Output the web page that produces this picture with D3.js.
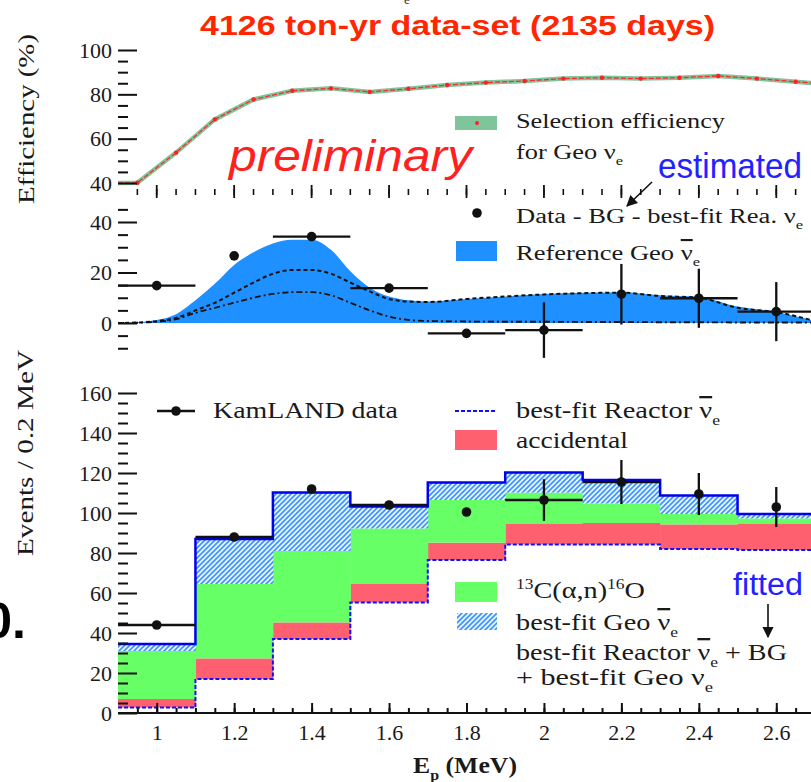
<!DOCTYPE html>
<html>
<head>
<meta charset="utf-8">
<script src="https://cdn.jsdelivr.net/npm/d3@7"></script>
<style>
body { margin: 0; background: #fff; }
text { font-family: "Liberation Serif", "Times New Roman", serif; }
.sans { font-family: "Liberation Sans", Arial, sans-serif; }
</style>
</head>
<body>
<script>
// energy bins (prompt energy, MeV), 0.2 MeV wide
const binCenters = [1.0, 1.2, 1.4, 1.6, 1.8, 2.0, 2.2, 2.4, 2.6];

// top panel: selection efficiency (%)
const effE   = [0.9, 0.95, 1.05, 1.15, 1.25, 1.35, 1.45, 1.55, 1.65, 1.75, 1.85, 1.95, 2.05, 2.15, 2.25, 2.35, 2.45, 2.55, 2.65, 2.7];
const effVal = [40, 40.1, 53.7, 68.7, 77.7, 81.6, 82.7, 81.1, 82.5, 84.2, 85.3, 86, 87.1, 87.5, 87.1, 87.5, 88.3, 87.1, 85.7, 85];

// middle panel: reference geo spectrum (total, U, Th)
const refE     = [0.9, 0.95, 1.0, 1.05, 1.1, 1.15, 1.2, 1.25, 1.3, 1.35, 1.4, 1.45, 1.5, 1.55, 1.6, 1.65, 1.7, 1.8, 1.9, 2.0, 2.1, 2.2, 2.3, 2.4, 2.5, 2.6, 2.7];
const refTotal = [0, 0.3, 1.2, 3.5, 9, 15.5, 23, 28, 31.5, 33, 33, 29, 20.5, 14, 10.5, 9, 8.5, 9.5, 10.5, 11.5, 12, 12.2, 11, 10.3, 6.5, 4.4, 0.8];
const refU     = [0, 0.2, 0.7, 2, 5, 8, 12, 16, 19.5, 21, 21, 19.5, 16, 12.5, 9.5, 8.5, 8.3, 9.5, 10.5, 11.3, 11.8, 12, 10.7, 10, 6, 4.3, 0.8];
const refTh    = [0, 0.1, 0.5, 1.5, 4, 6, 8, 10, 11.5, 12.2, 12.2, 11, 8, 5, 2.5, 1.2, 0.8, 0.6, 0.5, 0.5, 0.4, 0.4, 0.3, 0.3, 0.2, 0.2, 0.2];

// middle panel: data - BG - best-fit reactor
const subVal  = [14.8, 26.6, 34.2, 13.8, -4.1, -2.8, 11.4, 9.8, 4.5];
const subErr  = [0, 0, 0, 0, 0, 11, 12, 11.7, 11.7];
const subXerr = [0.1, 0, 0.1, 0.1, 0.1, 0.1, 0, 0.1, 0.1];

// bottom panel: stacked components (events / 0.2 MeV)
const reactor    = [2.7, 17, 37, 55.3, 76.5, 84.3, 84.3, 82, 81.5];
const accidental = [4.3, 10.3, 8.3, 9.2, 8.7, 10.5, 10.7, 12.3, 13.3];
const c13        = [24, 37.2, 35.7, 27.8, 21.3, 15.4, 9.8, 5.2, 2.5];
const geoFit     = [3.5, 22.5, 29.2, 10.9, 8.7, 10.1, 11.7, 9.2, 2.2];
const dataVal    = [44, 88, 112, 104, 100.5, 106.5, 115.5, 109.5, 103];
const dataErr    = [0, 0, 0, 0, 0, 10.4, 11, 10.5, 10];
const dataXerr   = [0.1, 0.1, 0, 0.1, 0, 0.1, 0.1, 0, 0];

const xTicks = [1, 1.2, 1.4, 1.6, 1.8, 2, 2.2, 2.4, 2.6];

const svgWidth = 811, svgHeight = 782;
const svg = d3.select("body").append("svg")
    .attr("width", svgWidth)
    .attr("height", svgHeight);

const defs = svg.append("defs");
const hatch = defs.append("pattern")
    .attr("id", "hatch")
    .attr("patternUnits", "userSpaceOnUse")
    .attr("width", 5).attr("height", 5);
hatch.append("rect").attr("width", 5).attr("height", 5).attr("fill", "#eaf4ff");
hatch.append("path")
    .attr("d", "M-1,1 l2,-2 M0,5 l5,-5 M4,6 l2,-2")
    .attr("stroke", "#3d95ff").attr("stroke-width", 1.7);
defs.append("marker")
    .attr("id", "arrow")
    .attr("viewBox", "0 0 10 10")
    .attr("refX", 9).attr("refY", 5)
    .attr("markerWidth", 7).attr("markerHeight", 7)
    .attr("orient", "auto")
  .append("path")
    .attr("d", "M0,0 L10,5 L0,10 z")
    .attr("fill", "#111");

// scales
const xScale = d3.scaleLinear().domain([0.9, 2.7]).range([118, 815]);
const yEff = d3.scaleLinear().domain([40, 100]).range([183, 50]);
const ySub = d3.scaleLinear().domain([0, 40]).range([323, 222]);
const yEvt = d3.scaleLinear().domain([0, 160]).range([713, 393]);

const plot = svg.append("g");

// helper for text with sub/superscripts and overlines
function richText(x, y, parts, size, len, fill, cls) {
  const t = plot.append("text")
      .attr("x", x).attr("y", y)
      .attr("font-size", size)
      .attr("fill", fill || "#1a1a1a");
  if (cls) t.attr("class", cls);
  if (len) t.attr("textLength", len).attr("lengthAdjust", "spacingAndGlyphs");
  let shift = 0;
  parts.forEach(p => {
    const s = t.append("tspan").text(p.t);
    let want = 0;
    if (p.sub) want = size * 0.3;
    if (p.sup) want = -size * 0.38;
    if (want !== shift) { s.attr("dy", want - shift); shift = want; }
    if (p.sub || p.sup) s.attr("font-size", size * 0.62);
    if (p.bar) s.style("text-decoration", "overline");
  });
  return t;
}

// ---------- top panel: efficiency ----------
const effPts = effE.map((e, i) => [e, effVal[i]]);
const effLine = d3.line()
    .x(d => xScale(d[0]))
    .y(d => yEff(d[1]));

plot.append("path")
    .datum(effPts)
    .attr("d", effLine)
    .attr("fill", "none")
    .attr("stroke", "#80c49c")
    .attr("stroke-width", 4.5);
plot.append("path")
    .datum(effPts)
    .attr("d", effLine)
    .attr("fill", "none")
    .attr("stroke", "#ff2a2a")
    .attr("stroke-width", 1.3)
    .attr("stroke-dasharray", "5,2");
plot.selectAll(".effmark")
    .data(effPts.slice(1, -1))
    .enter()
    .append("circle")
    .attr("cx", d => xScale(d[0]))
    .attr("cy", d => yEff(d[1]))
    .attr("r", 2.2)
    .attr("fill", "#ff2020");

plot.append("g")
    .attr("transform", "translate(118,0)")
    .call(d3.axisLeft(yEff).tickValues([40, 60, 80, 100]).tickSize(-19).tickPadding(6))
    .call(g => g.select(".domain").remove());
plot.append("g")
    .attr("transform", "translate(118,0)")
    .call(d3.axisLeft(yEff).tickValues(d3.range(45, 100, 5).filter(v => v % 20)).tickSize(-10).tickFormat(""))
    .call(g => g.select(".domain").remove());

// ticks between top and middle panel
const minorE = d3.range(0.95, 2.71, 0.05);
plot.selectAll(".tmin")
    .data(minorE)
    .enter()
    .append("line")
    .attr("x1", d => xScale(d)).attr("x2", d => xScale(d))
    .attr("y1", 189).attr("y2", 195)
    .attr("stroke", "#111").attr("stroke-width", 1.6);
plot.selectAll(".tmaj")
    .data(xTicks)
    .enter()
    .append("line")
    .attr("x1", d => xScale(d)).attr("x2", d => xScale(d))
    .attr("y1", 185).attr("y2", 198)
    .attr("stroke", "#111").attr("stroke-width", 1.8);

// ---------- middle panel: geo spectrum ----------
const refPts = refE.map((e, i) => ({e: e, tot: refTotal[i], u: refU[i], th: refTh[i]}));
plot.append("path")
    .datum(refPts)
    .attr("d", d3.area()
        .curve(d3.curveMonotoneX)
        .x(d => xScale(d.e))
        .y0(ySub(0))
        .y1(d => ySub(d.tot)))
    .attr("fill", "#1e90ff");
plot.append("path")
    .datum(refPts)
    .attr("d", d3.line().curve(d3.curveMonotoneX).x(d => xScale(d.e)).y(d => ySub(d.u)))
    .attr("fill", "none")
    .attr("stroke", "#111")
    .attr("stroke-width", 2)
    .attr("stroke-dasharray", "4,3");
plot.append("path")
    .datum(refPts)
    .attr("d", d3.line().curve(d3.curveMonotoneX).x(d => xScale(d.e)).y(d => ySub(d.th)))
    .attr("fill", "none")
    .attr("stroke", "#111")
    .attr("stroke-width", 1.8)
    .attr("stroke-dasharray", "6,3,2,3");

plot.append("g")
    .attr("transform", "translate(118,0)")
    .call(d3.axisLeft(ySub).tickValues([0, 20, 40]).tickSize(-19).tickPadding(6))
    .call(g => g.select(".domain").remove());
plot.append("g")
    .attr("transform", "translate(118,0)")
    .call(d3.axisLeft(ySub).tickValues([-10, -5, 5, 10, 15, 25, 30, 35, 45]).tickSize(-10).tickFormat(""))
    .call(g => g.select(".domain").remove());

const subPts = binCenters.map((e, i) => ({e: e, v: subVal[i], err: subErr[i], xe: subXerr[i]}));
const subG = plot.append("g");
subG.selectAll(".xbar")
    .data(subPts.filter(d => d.xe > 0))
    .enter()
    .append("line")
    .attr("x1", d => xScale(d.e - d.xe)).attr("x2", d => xScale(d.e + d.xe))
    .attr("y1", d => ySub(d.v)).attr("y2", d => ySub(d.v))
    .attr("stroke", "#111").attr("stroke-width", 2.3);
subG.selectAll(".ybar")
    .data(subPts.filter(d => d.err > 0))
    .enter()
    .append("line")
    .attr("x1", d => xScale(d.e)).attr("x2", d => xScale(d.e))
    .attr("y1", d => ySub(d.v - d.err)).attr("y2", d => ySub(d.v + d.err))
    .attr("stroke", "#111").attr("stroke-width", 2.3);
subG.selectAll("circle")
    .data(subPts)
    .enter()
    .append("circle")
    .attr("cx", d => xScale(d.e))
    .attr("cy", d => ySub(d.v))
    .attr("r", 4.8)
    .attr("fill", "#111");

// ---------- bottom panel: stacked spectrum ----------
const binRows = binCenters.map((e, i) => ({
  e: e, reactor: reactor[i], accidental: accidental[i], c13: c13[i], geo: geoFit[i]
}));
const stack = d3.stack().keys(["reactor", "accidental", "c13", "geo"]);
const layers = stack(binRows);
const fills = {accidental: "#ff6070", c13: "#66ff66", geo: "url(#hatch)"};

layers.filter(l => l.key !== "reactor").forEach(layer => {
  plot.append("g").selectAll("rect")
      .data(layer)
      .enter()
      .append("rect")
      .attr("x", d => xScale(d.data.e - 0.1))
      .attr("width", d => xScale(d.data.e + 0.1) - xScale(d.data.e - 0.1) + 0.5)
      .attr("y", d => yEvt(d[1]))
      .attr("height", d => yEvt(d[0]) - yEvt(d[1]))
      .attr("fill", fills[layer.key]);
});

function stepPoints(vals) {
  const pts = [];
  vals.forEach((v, i) => {
    pts.push([binCenters[i] - 0.1, v]);
    pts.push([binCenters[i] + 0.1, v]);
  });
  return pts;
}
const stepLine = d3.line().x(d => xScale(d[0])).y(d => yEvt(d[1]));

plot.append("path")
    .datum(stepPoints(reactor))
    .attr("d", stepLine)
    .attr("fill", "none")
    .attr("stroke", "#1010ff")
    .attr("stroke-width", 2)
    .attr("stroke-dasharray", "4,2");

const totals = layers[layers.length - 1].map(d => d[1]);
plot.append("path")
    .datum(stepPoints(totals))
    .attr("d", stepLine)
    .attr("fill", "none")
    .attr("stroke", "#0000ee")
    .attr("stroke-width", 2.5);

const dataPts = binCenters.map((e, i) => ({e: e, v: dataVal[i], err: dataErr[i], xe: dataXerr[i]}));
const dataG = plot.append("g");
dataG.selectAll(".xbar")
    .data(dataPts.filter(d => d.xe > 0))
    .enter()
    .append("line")
    .attr("x1", d => xScale(d.e - d.xe)).attr("x2", d => xScale(d.e + d.xe))
    .attr("y1", d => yEvt(d.v)).attr("y2", d => yEvt(d.v))
    .attr("stroke", "#111").attr("stroke-width", 2.3);
dataG.selectAll(".ybar")
    .data(dataPts.filter(d => d.err > 0))
    .enter()
    .append("line")
    .attr("x1", d => xScale(d.e)).attr("x2", d => xScale(d.e))
    .attr("y1", d => yEvt(d.v - d.err)).attr("y2", d => yEvt(d.v + d.err))
    .attr("stroke", "#111").attr("stroke-width", 2.3);
dataG.selectAll("circle")
    .data(dataPts)
    .enter()
    .append("circle")
    .attr("cx", d => xScale(d.e))
    .attr("cy", d => yEvt(d.v))
    .attr("r", 4.8)
    .attr("fill", "#111");

plot.append("g")
    .attr("transform", "translate(118,0)")
    .call(d3.axisLeft(yEvt).tickValues(d3.range(0, 161, 20)).tickSize(-19).tickPadding(6))
    .call(g => g.select(".domain").remove());
plot.append("g")
    .attr("transform", "translate(118,0)")
    .call(d3.axisLeft(yEvt).tickValues(d3.range(5, 160, 5).filter(v => v % 20)).tickSize(-10).tickFormat(""))
    .call(g => g.select(".domain").remove());

// x axis
plot.append("g")
    .attr("transform", "translate(0,713)")
    .call(d3.axisBottom(xScale).tickValues(minorE).tickSize(-5).tickFormat(""))
    .call(g => g.select(".domain").remove());
plot.append("g")
    .attr("transform", "translate(0,713)")
    .call(d3.axisBottom(xScale).tickValues(xTicks).tickSize(-10).tickPadding(11).tickFormat(d3.format("~g")))
    .call(g => g.select(".domain").remove());
plot.append("line")
    .attr("x1", 118).attr("x2", 811)
    .attr("y1", 713).attr("y2", 713)
    .attr("stroke", "#111").attr("stroke-width", 2.2);

plot.selectAll(".tick line").attr("stroke", "#111").attr("stroke-width", 2);
plot.selectAll(".tick text")
    .attr("font-size", 22)
    .attr("fill", "#1a1a1a")
    .style("font-family", "'Liberation Serif', serif");

// ---------- titles ----------
richText(200, 35, [{t: "4126 ton-yr data-set (2135 days)"}], 28, 515, "#ff2600", "sans")
    .attr("font-weight", "bold");
richText(404, 4, [{t: "e"}], 13, null, "#333");
richText(229, 171, [{t: "preliminary"}], 45, 243, "#ff2020", "sans")
    .attr("font-style", "italic");
richText(658, 178, [{t: "estimated"}], 35, 144, "#2222ff", "sans");
richText(733, 595, [{t: "fitted"}], 31, 70, "#2222ff", "sans");
richText(26, 638, [{t: "0."}], 50, null, "#000", "sans")
    .attr("font-weight", "bold")
    .attr("text-anchor", "end");

plot.append("line")
    .attr("x1", 652).attr("y1", 182).attr("x2", 627).attr("y2", 206)
    .attr("stroke", "#111").attr("stroke-width", 1.6)
    .attr("marker-end", "url(#arrow)");
plot.append("line")
    .attr("x1", 768).attr("y1", 604).attr("x2", 768).attr("y2", 637)
    .attr("stroke", "#111").attr("stroke-width", 1.6)
    .attr("marker-end", "url(#arrow)");

// axis titles
richText(0, 0, [{t: "Efficiency (%)"}], 23, 170)
    .attr("transform", "translate(34,119) rotate(-90)")
    .attr("text-anchor", "middle");
richText(0, 0, [{t: "Events / 0.2 MeV"}], 23, 206)
    .attr("transform", "translate(33,453) rotate(-90)")
    .attr("text-anchor", "middle");
richText(413, 773, [{t: "E"}, {t: "p", sub: true}, {t: " (MeV)"}], 23, 104)
    .attr("font-weight", "bold");

// ---------- legends ----------
plot.append("rect").attr("x", 455).attr("y", 116).attr("width", 42).attr("height", 14).attr("fill", "#80c49c");
plot.append("circle").attr("cx", 477).attr("cy", 123).attr("r", 2).attr("fill", "#ff2020");
richText(516, 128, [{t: "Selection efficiency"}], 20, 209);
richText(516, 159, [{t: "for Geo ν"}, {t: "e", sub: true}], 20, 107);

plot.append("circle").attr("cx", 477).attr("cy", 213).attr("r", 4.8).attr("fill", "#111");
richText(516, 223, [{t: "Data - BG - best-fit Rea. ν"}, {t: "e", sub: true}], 20, 287);
plot.append("rect").attr("x", 456).attr("y", 241).attr("width", 41).attr("height", 20).attr("fill", "#1e90ff");
richText(516, 260, [{t: "Reference Geo "}, {t: "ν", bar: true}, {t: "e", sub: true}], 21, 184);

plot.append("line").attr("x1", 157).attr("x2", 195).attr("y1", 411).attr("y2", 411)
    .attr("stroke", "#111").attr("stroke-width", 2.3);
plot.append("circle").attr("cx", 176).attr("cy", 411).attr("r", 4.8).attr("fill", "#111");
richText(213, 418, [{t: "KamLAND data"}], 23, 185);

plot.append("line").attr("x1", 455).attr("x2", 497).attr("y1", 411).attr("y2", 411)
    .attr("stroke", "#1010ff").attr("stroke-width", 2).attr("stroke-dasharray", "4,2");
richText(516, 418, [{t: "best-fit Reactor "}, {t: "ν", bar: true}, {t: "e", sub: true}], 23, 204);
plot.append("rect").attr("x", 455).attr("y", 430).attr("width", 42).attr("height", 20).attr("fill", "#ff6070");
richText(516, 448, [{t: "accidental"}], 23, 112);

plot.append("rect").attr("x", 455).attr("y", 582).attr("width", 42).attr("height", 20).attr("fill", "#66ff66");
richText(516, 598, [{t: "13", sup: true}, {t: "C(α,n)"}, {t: "16", sup: true}, {t: "O"}], 23, 129);
plot.append("rect").attr("x", 457).attr("y", 613).attr("width", 40).attr("height", 17).attr("fill", "url(#hatch)");
richText(516, 630, [{t: "best-fit Geo "}, {t: "ν", bar: true}, {t: "e", sub: true}], 23, 162);
richText(516, 660, [{t: "best-fit Reactor "}, {t: "ν", bar: true}, {t: "e", sub: true}, {t: " + BG"}], 23, 271);
richText(516, 685, [{t: "+ best-fit Geo ν"}, {t: "e", sub: true}], 23, 197);
</script>
</body>
</html>
